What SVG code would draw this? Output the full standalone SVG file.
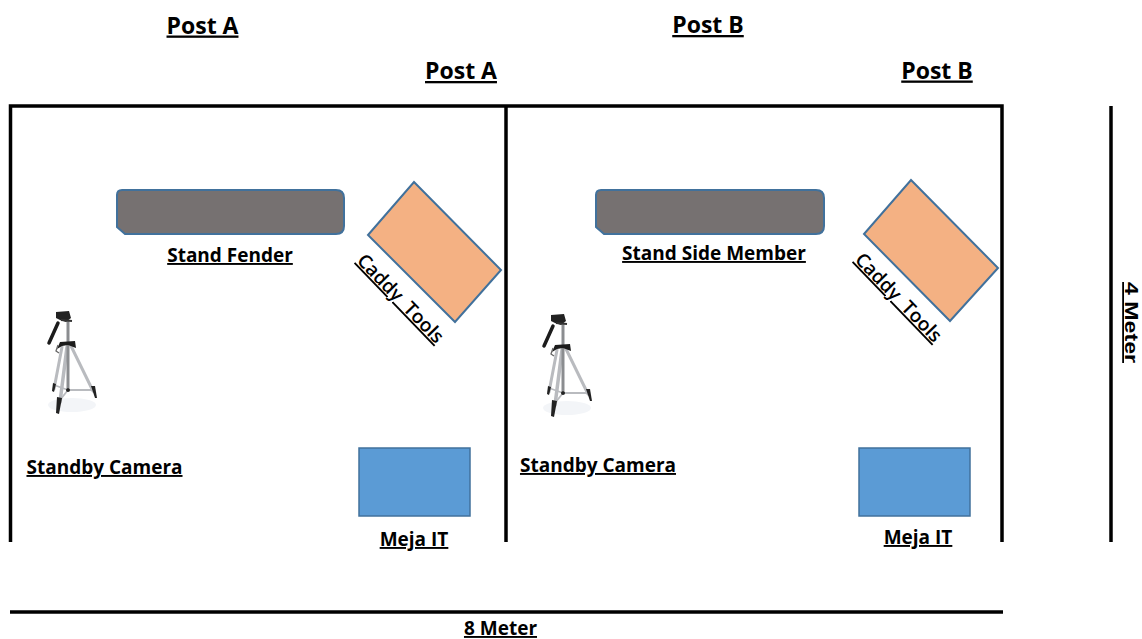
<svg xmlns="http://www.w3.org/2000/svg" width="1142" height="639" viewBox="0 0 1142 639">
<style>
text{font-family:"Open Sans","Noto Sans","Liberation Sans",sans-serif;font-weight:700;fill:#000;text-decoration:underline;text-anchor:middle}
.t{font-size:23px}
.l{font-size:19px}
.c{font-size:19px;font-weight:600;white-space:pre}
.a{font-family:"Liberation Sans",sans-serif;font-size:18px}
.w{stroke:#000;stroke-width:3.5;fill:none}
.stand{fill:#767171;stroke:#41719c;stroke-width:2}
.caddy{fill:#f4b183;stroke:#41719c;stroke-width:2}
.meja{fill:#5b9bd5;stroke:#41719c;stroke-width:1.5}
</style>
<defs>
<g id="tripod">
<ellipse cx="72" cy="405" rx="24" ry="7" fill="#f3f5f8"/>
<g fill="none" stroke="#b9bbbf" stroke-linecap="round">
<path d="M62 347L54 389" stroke-width="3"/>
<path d="M67 347L60 402" stroke-width="3.500"/>
<path d="M71 346L93 391" stroke-width="3"/>
<path d="M68 390L54 385M68 390L92 390M68 390L60 400" stroke-width="1.800"/>
</g>
<path d="M68 320V388" stroke="#8b8d90" stroke-width="3" fill="none"/>
<path d="M57 349L60 342L75 341L76 348L68 345L62 346Z" fill="#1c1c1c"/>
<path d="M58 345L56 351L59 353" stroke="#666" stroke-width="1.3" fill="none"/>
<path d="M58 323L49 343" stroke="#1c1c1c" stroke-width="3.5" stroke-linecap="round" fill="none"/>
<path d="M56 312L69 311L71 318L66 322L60 320L56 318Z" fill="#222"/>
<path d="M61 320L72 321" stroke="#333" stroke-width="2" fill="none"/>
<path d="M53 383L56 384L54 392L52 391Z" fill="#222"/>
<path d="M57 397L62 398L59 414L56 413Z" fill="#222"/>
<path d="M91 386L95 386L97 398L95 398Z" fill="#222"/>
<circle cx="68" cy="390" r="2" fill="#222"/>
</g>
</defs>

<g id="walls" class="w">
<path d="M10.500 542V106H1002V542"/>
<path d="M506 106V542"/>
</g>

<g id="connectors" fill="none" stroke="#000">
<path id="dim-width" d="M10 612H1003" stroke-width="3.500"/>
<path id="dim-height" d="M1111 106V542" stroke-width="3.500"/>
</g>

<g id="title-post-a"><text class="t" x="202.500" y="33.500">Post A</text></g>
<g id="title-post-b"><text class="t" x="708" y="33">Post B</text></g>
<g id="label-post-a"><text class="t" x="461" y="79">Post A</text></g>
<g id="label-post-b"><text class="t" x="937" y="78.500">Post B</text></g>

<g id="stand-fender">
<path class="stand" d="M122 190H336Q344 190 344 198V226Q344 234 336 234H125L117 227V195Q117 190 122 190Z"/>
<text class="l" x="230" y="262">Stand Fender</text>
</g>
<g id="caddy-a">
<path class="caddy" d="M414 182L501 270L455 322L368 235Z"/>
<text class="c" transform="translate(396 303) rotate(46)" x="0" y="0">Caddy  Tools</text>
</g>
<g id="camera-a">
<use href="#tripod"/>
<text class="l" x="104.500" y="474">Standby Camera</text>
</g>
<g id="meja-a">
<rect class="meja" x="359" y="448" width="111" height="68"/>
<text class="l" x="414" y="546">Meja IT</text>
</g>

<g id="stand-side-member">
<path class="stand" d="M601 190H816Q824 190 824 198V226Q824 234 816 234H604L596 227V195Q596 190 601 190Z"/>
<text class="l" x="714" y="260">Stand Side Member</text>
</g>
<g id="caddy-b">
<path class="caddy" d="M911 180L998 268L950 321L864 234Z"/>
<text class="c" transform="translate(894 302) rotate(46)" x="0" y="0">Caddy  Tools</text>
</g>
<g id="camera-b">
<use href="#tripod" transform="translate(495 3)"/>
<text class="l" x="598" y="472">Standby Camera</text>
</g>
<g id="meja-b">
<rect class="meja" x="859" y="448" width="111" height="68"/>
<text class="l" x="918" y="544">Meja IT</text>
</g>

<g id="label-8m"><text class="l" x="500.500" y="635">8 Meter</text></g>
<g id="label-4m"><text class="a" transform="translate(1125 322.500) rotate(90)" x="0" y="0" textLength="81" lengthAdjust="spacingAndGlyphs">4 Meter</text></g>
</svg>
